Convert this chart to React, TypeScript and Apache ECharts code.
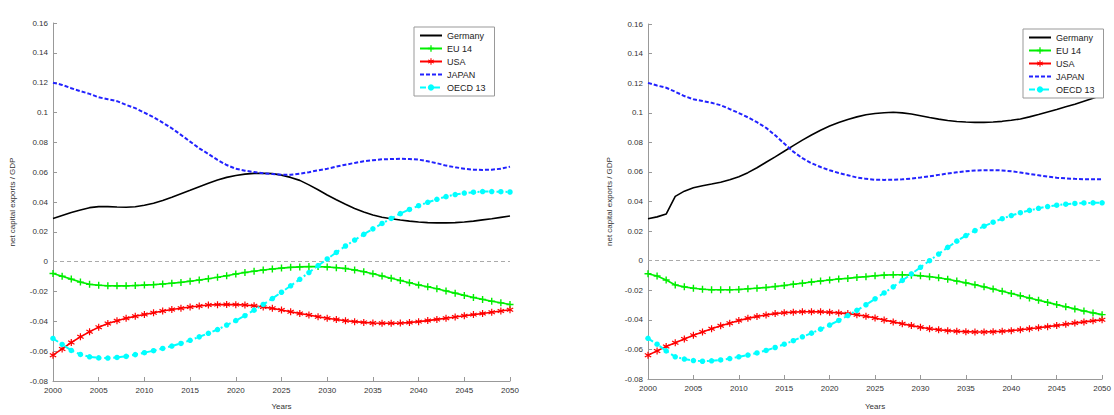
import React, { useEffect, useRef } from "react";
import * as echarts from "echarts";

const YEARS = Array.from({ length: 51 }, (_, i) => 2000 + i);
const SERIES_NAMES = ["Germany", "EU 14", "USA", "JAPAN", "OECD 13"];

// Left panel
const germanyL = [0.0290,0.0310,0.0330,0.0346,0.0362,0.0369,0.0369,0.0366,0.0365,0.0368,
  0.0378,0.0392,0.0410,0.0432,0.0455,0.0478,0.0502,0.0525,0.0547,0.0565,
  0.0578,0.0587,0.0592,0.0593,0.0590,0.0580,0.0565,0.0545,0.0515,0.0482,
  0.0447,0.0415,0.0385,0.0357,0.0333,0.0313,0.0298,0.0288,0.0279,0.0272,
  0.0266,0.0262,0.0260,0.0260,0.0262,0.0266,0.0272,0.0280,0.0288,0.0297,
  0.0306];
const eu14L = [-0.0079,-0.0098,-0.0117,-0.0137,-0.0152,-0.0158,-0.0161,-0.0162,-0.0162,-0.0160,
  -0.0157,-0.0154,-0.0150,-0.0145,-0.0139,-0.0131,-0.0123,-0.0114,-0.0105,-0.0094,
  -0.0083,-0.0073,-0.0064,-0.0056,-0.0049,-0.0043,-0.0038,-0.0035,-0.0033,-0.0033,
  -0.0036,-0.0040,-0.0046,-0.0056,-0.0067,-0.0081,-0.0096,-0.0111,-0.0126,-0.0141,
  -0.0156,-0.0168,-0.0181,-0.0196,-0.0211,-0.0226,-0.0240,-0.0253,-0.0265,-0.0276,
  -0.0287];
const usaL = [-0.0627,-0.0585,-0.0542,-0.0504,-0.0470,-0.0439,-0.0415,-0.0396,-0.0380,-0.0366,
  -0.0354,-0.0342,-0.0331,-0.0321,-0.0312,-0.0304,-0.0297,-0.0291,-0.0288,-0.0287,
  -0.0288,-0.0291,-0.0296,-0.0304,-0.0313,-0.0324,-0.0336,-0.0347,-0.0358,-0.0369,
  -0.0379,-0.0388,-0.0396,-0.0402,-0.0407,-0.0411,-0.0413,-0.0413,-0.0412,-0.0408,
  -0.0402,-0.0395,-0.0387,-0.0379,-0.0371,-0.0363,-0.0355,-0.0347,-0.0339,-0.0331,
  -0.0322];
const japanL = [0.1200,0.1185,0.1163,0.1143,0.1125,0.1102,0.1089,0.1076,0.1051,0.1029,
  0.0999,0.0968,0.0932,0.0894,0.0850,0.0805,0.0760,0.0722,0.0682,0.0648,
  0.0623,0.0610,0.0601,0.0592,0.0588,0.0583,0.0582,0.0589,0.0600,0.0612,
  0.0623,0.0637,0.0650,0.0662,0.0673,0.0680,0.0686,0.0688,0.0690,0.0688,
  0.0684,0.0673,0.0660,0.0644,0.0633,0.0623,0.0617,0.0615,0.0617,0.0623,
  0.0637];
const oecdL = [-0.0515,-0.0555,-0.0595,-0.0622,-0.0638,-0.0645,-0.0646,-0.0642,-0.0635,-0.0623,
  -0.0610,-0.0597,-0.0582,-0.0566,-0.0548,-0.0527,-0.0504,-0.0480,-0.0455,-0.0425,
  -0.0395,-0.0362,-0.0325,-0.0287,-0.0247,-0.0205,-0.0162,-0.0118,-0.0073,-0.0027,
  0.0018,0.0062,0.0105,0.0145,0.0183,0.0220,0.0256,0.0290,0.0322,0.0350,
  0.0375,0.0398,0.0418,0.0436,0.0450,0.0460,0.0466,0.0470,0.0470,0.0469,
  0.0467];

// Right panel
const germanyR = [0.0283,0.0296,0.0315,0.0435,0.0470,0.0493,0.0507,0.0518,0.0530,0.0547,
  0.0568,0.0595,0.0628,0.0665,0.0702,0.0740,0.0778,0.0815,0.0850,0.0882,
  0.0910,0.0934,0.0955,0.0972,0.0986,0.0995,0.1000,0.1003,0.0999,0.0991,
  0.0980,0.0968,0.0957,0.0948,0.0941,0.0937,0.0935,0.0935,0.0937,0.0942,
  0.0949,0.0958,0.0972,0.0988,0.1005,0.1022,0.1040,0.1058,0.1078,0.1098,
  0.1120];
const eu14R = [-0.0088,-0.0104,-0.0131,-0.0164,-0.0177,-0.0186,-0.0193,-0.0197,-0.0197,-0.0197,
  -0.0195,-0.0190,-0.0186,-0.0181,-0.0175,-0.0168,-0.0159,-0.0153,-0.0144,-0.0137,
  -0.0131,-0.0124,-0.0120,-0.0113,-0.0108,-0.0102,-0.0098,-0.0095,-0.0095,-0.0098,
  -0.0102,-0.0108,-0.0116,-0.0126,-0.0138,-0.0150,-0.0163,-0.0177,-0.0192,-0.0207,
  -0.0222,-0.0237,-0.0252,-0.0267,-0.0282,-0.0297,-0.0312,-0.0326,-0.0340,-0.0353,
  -0.0365];
const usaR = [-0.0640,-0.0610,-0.0580,-0.0555,-0.0530,-0.0505,-0.0482,-0.0460,-0.0440,-0.0423,
  -0.0405,-0.0390,-0.0377,-0.0367,-0.0358,-0.0352,-0.0348,-0.0345,-0.0345,-0.0346,
  -0.0349,-0.0353,-0.0358,-0.0366,-0.0376,-0.0388,-0.0401,-0.0414,-0.0427,-0.0439,
  -0.0450,-0.0460,-0.0467,-0.0473,-0.0477,-0.0480,-0.0482,-0.0482,-0.0480,-0.0477,
  -0.0473,-0.0467,-0.0460,-0.0453,-0.0446,-0.0438,-0.0430,-0.0422,-0.0414,-0.0407,
  -0.0399];
const japanR = [0.1202,0.1184,0.1169,0.1142,0.1113,0.1091,0.1080,0.1067,0.1051,0.1025,
  0.0998,0.0969,0.0936,0.0898,0.0848,0.0792,0.0737,0.0693,0.0659,0.0633,
  0.0611,0.0593,0.0578,0.0562,0.0553,0.0547,0.0546,0.0547,0.0550,0.0555,
  0.0562,0.0570,0.0580,0.0589,0.0597,0.0604,0.0609,0.0611,0.0612,0.0610,
  0.0604,0.0596,0.0586,0.0577,0.0568,0.0561,0.0556,0.0553,0.0551,0.0550,
  0.0550];
const oecdR = [-0.0525,-0.0565,-0.0610,-0.0650,-0.0665,-0.0675,-0.0680,-0.0677,-0.0671,-0.0662,
  -0.0650,-0.0638,-0.0624,-0.0607,-0.0587,-0.0565,-0.0541,-0.0515,-0.0490,-0.0463,
  -0.0435,-0.0404,-0.0371,-0.0336,-0.0298,-0.0258,-0.0218,-0.0177,-0.0134,-0.0090,
  -0.0045,0.0000,0.0045,0.0090,0.0132,0.0170,0.0203,0.0233,0.0260,0.0284,
  0.0305,0.0324,0.0340,0.0354,0.0366,0.0375,0.0382,0.0387,0.0390,0.0391,
  0.0391];

const PANELS = [
  [germanyL, eu14L, usaL, japanL, oecdL],
  [germanyR, eu14R, usaR, japanR, oecdR],
];

const FONT = "'Liberation Sans', Arial, sans-serif";
const PLUS = "path://M4,0H6V4H10V6H6V10H4V6H0V4H4Z";
const STAR =
  "path://M4.2,0H5.8V3.6L8.9,1.8L9.7,3.2L6.6,5L9.7,6.8L8.9,8.2L5.8,6.4V10H4.2V6.4L1.1,8.2L0.3,6.8L3.4,5L0.3,3.2L1.1,1.8L4.2,3.6Z";

const STYLES: any[] = [
  { color: "#000000", width: 1.6, type: "solid", symbol: "none", size: 0 },
  { color: "#00ee00", width: 1.6, type: "solid", symbol: PLUS, size: 7 },
  { color: "#ff0000", width: 1.6, type: "solid", symbol: STAR, size: 7 },
  { color: "#2222ff", width: 2, type: [4, 2], symbol: "none", size: 0 },
  { color: "#00ffff", width: 2, type: [6, 3, 2, 3], symbol: "circle", size: 5.5 },
];

const pairs = (vals: number[]) => YEARS.map((y, i) => [y, vals[i]]);

export default function App() {
  const ref = useRef<HTMLDivElement>(null);
  useEffect(() => {
    if (!ref.current) return;
    const chart = echarts.init(ref.current, null, { renderer: "svg" });
    const grids = [
      { left: 53, top: 23, width: 457, height: 358 },
      { left: 648, top: 24, width: 464, height: 362 },
    ];
    const axisText = { fontSize: 8, color: "#333", fontFamily: FONT };
    const xAxes = grids.map((_, gi) => ({
      gridIndex: gi,
      type: "value",
      min: 2000,
      max: 2050,
      interval: 5,
      name: "Years",
      nameLocation: "middle",
      nameGap: gi === 0 ? 21 : 23,
      nameTextStyle: axisText,
      axisLine: { show: true, onZero: false, lineStyle: { color: "#999", width: 1 } },
      axisTick: { show: true, inside: true, length: 4, lineStyle: { color: "#999" } },
      axisLabel: { ...axisText, margin: 5, formatter: (v: number) => String(v) },
      splitLine: { show: false },
    }));
    const yAxes = grids.map((_, gi) => ({
      gridIndex: gi,
      type: "value",
      min: -0.08,
      max: 0.16,
      interval: 0.02,
      name: "net capital exports / GDP",
      nameLocation: "middle",
      nameGap: gi === 0 ? 37 : 35,
      nameTextStyle: axisText,
      axisLine: { show: true, onZero: false, lineStyle: { color: "#999", width: 1 } },
      axisTick: { show: true, inside: true, length: 4, lineStyle: { color: "#999" } },
      axisLabel: {
        ...axisText,
        margin: 5,
        formatter: (v: number) => String(parseFloat(v.toFixed(2))),
      },
      splitLine: { show: false },
    }));
    const series: any[] = [];
    PANELS.forEach((vals, gi) => {
      vals.forEach((arr, si) => {
        const st = STYLES[si];
        const s: any = {
          name: SERIES_NAMES[si],
          type: "line",
          xAxisIndex: gi,
          yAxisIndex: gi,
          data: pairs(arr),
          smooth: false,
          symbol: st.symbol,
          symbolSize: st.size,
          showSymbol: st.symbol !== "none",
          lineStyle: { color: st.color, width: st.width, type: st.type },
          itemStyle: { color: st.color, borderWidth: 0 },
          z: 3 + si,
          silent: true,
        };
        if (si === 0) {
          s.markLine = {
            silent: true,
            symbol: ["none", "none"],
            label: { show: false },
            lineStyle: { color: "#aaaaaa", type: [4, 3], width: 1 },
            data: [{ yAxis: 0 }],
          };
        }
        series.push(s);
      });
    });
    const legendData = SERIES_NAMES.map((n, i) =>
      STYLES[i].symbol === "none" ? { name: n, itemStyle: { opacity: 0 } } : { name: n }
    );
    const legendBase = {
      orient: "vertical",
      data: legendData,
      itemWidth: 22,
      itemHeight: 8,
      itemGap: 4,
      padding: [4, 9, 4, 5],
      borderColor: "#999",
      borderWidth: 1,
      backgroundColor: "#fff",
      textStyle: { fontSize: 9, color: "#222", fontFamily: FONT, lineHeight: 8 },
      selectedMode: false,
    };
    chart.setOption({
      animation: false,
      backgroundColor: "#fff",
      textStyle: { fontFamily: FONT },
      grid: grids,
      xAxis: xAxes,
      yAxis: yAxes,
      legend: [
        { ...legendBase, left: 414, top: 27 },
        { ...legendBase, left: 1023, top: 29 },
      ],
      series,
    });
    return () => chart.dispose();
  }, []);
  return (
    <div
      ref={ref}
      style={{ position: "fixed", left: 0, top: 0, width: 1114, height: 415, background: "#fff" }}
    />
  );
}
